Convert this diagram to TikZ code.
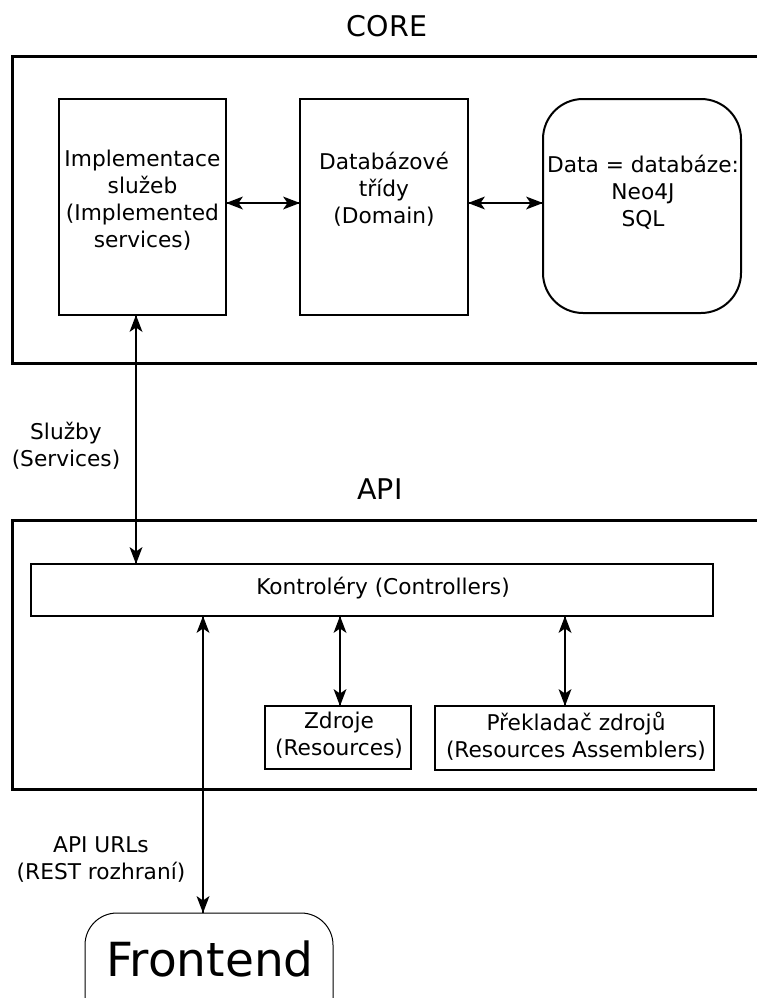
\documentclass[tikz,border=0pt]{standalone}
\usepackage{fontspec}
\setmainfont{DejaVu Sans}
\usetikzlibrary{decorations.markings}

\tikzset{
  container/.style={draw, line width=3pt, inner sep=0pt, outer sep=0pt},
  box/.style={draw, line width=2pt, inner sep=0pt, outer sep=0pt},
  thinbox/.style={draw, line width=1.4pt, inner sep=0pt, outer sep=0pt},
  txt/.style={align=center, inner sep=0pt, font=\fontsize{21.7}{27}\selectfont},
  title/.style={inner sep=0pt, font=\fontsize{28.5}{34}\selectfont},
  % double-headed connector with notched triangular heads at both ends
  arr/.style={line width=1.7pt,
    postaction={decorate},
    decoration={markings,
      mark=at position 0 with {\fill (0,0) -- (17,6.5) -- (12.5,0) -- (17,-6.5) -- cycle;},
      mark=at position 1 with {\fill (0,0) -- (-17,6.5) -- (-12.5,0) -- (-17,-6.5) -- cycle;}}},
}

\begin{document}
\begin{tikzpicture}[x=1pt, y=-1pt]
  \useasboundingbox (0,0) rectangle (757,998);
  \clip (0,0) rectangle (757,998);
  \fill[white] (0,0) rectangle (757,998);

  % CORE layer
  \node[title] (coreT) at (387,26.5) {CORE};
  \node[container, minimum width=763pt, minimum height=306pt] (core) at (393.5,210) {};

  \node[box, minimum width=167pt, minimum height=216pt] (impl) at (142.5,207) {};
  \node[txt] (implT) at (142.5,200) {Implementace\\služeb\\(Implemented\\services)};

  \node[box, minimum width=168pt, minimum height=216pt] (dom) at (384,207) {};
  \node[txt] (domT) at (384,189) {Databázové\\třídy\\(Domain)};

  \node[box, rounded corners=40pt, minimum width=198pt, minimum height=214pt] (data) at (642,206) {};
  \node[txt] (dataT) at (643,192) {Data = databáze:\\Neo4J\\SQL};

  \draw[arr] ([yshift=4pt]impl.east) -- ([yshift=4pt]dom.west);
  \draw[arr] ([yshift=4pt]dom.east) -- ([yshift=3pt]data.west);

  % API layer
  \node[title] (apiT) at (380,489.5) {API};
  \node[container, minimum width=763pt, minimum height=269pt] (api) at (393.5,654.5) {};

  \node[box, minimum width=682pt, minimum height=52pt] (ctrl) at (372,590) {};
  \node[txt] (ctrlT) at (383,588) {Kontroléry (Controllers)};

  \node[thinbox, minimum width=146pt, minimum height=63pt] (zdr) at (338,737.5) {};
  \node[txt] (zdrT) at (339,735) {Zdroje\\(Resources)};

  \node[thinbox, minimum width=279pt, minimum height=64pt] (asm) at (574.5,738) {};
  \node[txt] (asmT) at (576,736.5) {Překladač zdrojů\\(Resources Assemblers)};

  \draw[arr] ([xshift=-6.5pt]impl.south) -- ([xshift=-6.5pt]impl.south |- ctrl.north);
  \node[txt] (svcT) at (66,446) {Služby\\(Services)};

  \draw[arr] ([xshift=2pt]zdr.north |- ctrl.south) -- ([xshift=2pt]zdr.north);
  \draw[arr] ([xshift=-9.5pt]asm.north |- ctrl.south) -- ([xshift=-9.5pt]asm.north);

  % Frontend (runs past the lower edge)
  \node[thinbox, line width=1pt, rounded corners=32pt, minimum width=248pt, minimum height=154pt] (front) at (209,990) {};
  \node[inner sep=0pt, font=\fontsize{47}{56}\selectfont] (frontT) at (210,959) {Frontend};

  \draw[arr] ([xshift=-6pt]front.north) -- ([xshift=-6pt]front.north |- ctrl.south);
  \node[txt] (restT) at (101,860) {API URLs\\(REST rozhraní)};
\end{tikzpicture}
\end{document}
